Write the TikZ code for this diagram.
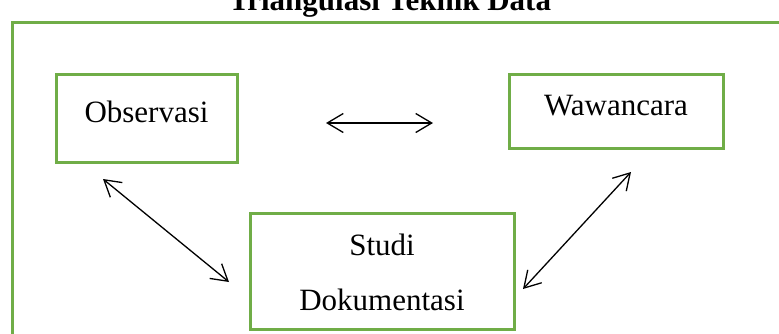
\documentclass[tikz,border=0pt]{standalone}
\usepackage{fontspec}
\setmainfont{Liberation Serif}
\usetikzlibrary{arrows.meta}
\definecolor{boxgreen}{HTML}{70AD47}
\tikzset{
  box/.style={draw=boxgreen, line width=3pt, fill=white, inner sep=0pt},
  lbl/.style={anchor=base, inner sep=0pt, font=\fontsize{31}{31}\selectfont},
  twoway/.style={line width=1.3pt, {Straight Barb[length=16pt,width=19pt]}-{Straight Barb[length=16pt,width=19pt]}}
}
\begin{document}
\begin{tikzpicture}[x=1pt,y=-1pt]
\useasboundingbox (0,0) rectangle (779,333);
\clip (0,0) rectangle (779,333);
% title (cut off at top, as in the reference)
\node[lbl, font=\fontsize{31}{31}\selectfont\bfseries] (title) at (390,10) {Triangulasi Teknik Data};
% outer frame
\node[draw=boxgreen, line width=3pt, minimum width=800pt, minimum height=360pt, anchor=north west, inner sep=0pt] (frame) at (11,21) {};
% boxes
\node[box, minimum width=181pt, minimum height=88pt] (obs) at (146.5,118) {};
\node[box, minimum width=214pt, minimum height=74pt] (waw) at (616,111) {};
\node[box, minimum width=264pt, minimum height=116pt] (doc) at (382,271) {};
% texts
\node[lbl] (obst) at (146.5,122) {Observasi};
\node[lbl] (wawt) at (616,115) {Wawancara};
\node[lbl] (doct1) at (382,255) {Studi};
\node[lbl] (doct2) at (382,310) {Dokumentasi};
% arrow ends
\coordinate (h1) at (326,123);
\coordinate (h2) at (433,123);
\coordinate (l1) at (103,179);
\coordinate (l2) at (229,282);
\coordinate (r1) at (523,289);
\coordinate (r2) at (631,172);
\draw[twoway] (h1) -- (h2);
\draw[twoway] (l1) -- (l2);
\draw[twoway] (r1) -- (r2);
\end{tikzpicture}
\end{document}
